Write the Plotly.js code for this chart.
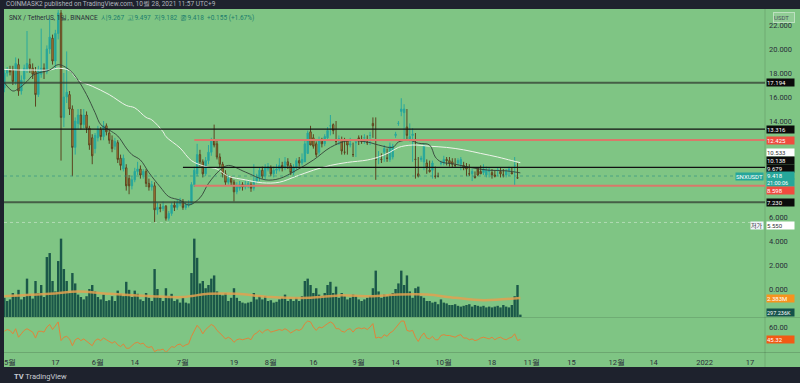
<!DOCTYPE html>
<html><head><meta charset="utf-8">
<script src="https://cdn.plot.ly/plotly-3.0.1.min.js"></script>
<style>html,body{margin:0;padding:0;background:#1e222d;overflow:hidden}#chart{width:800px;height:383px}</style>
</head><body><div id="chart"></div>
<script>
// ---- data (daily candles, 2021-04-29 .. 2021-10-28) ----
const startDate = '2021-04-29';
const opens = [16.75,18.0,18.2,18.3,17.3,18.7,16.5,17.5,18.3,18.7,18.4,18.1,16.2,17.9,18.4,18.1,20.0,20.9,19.0,21.3,23.0,14.3,16.0,16.2,15.0,11.8,13.8,14.5,13.7,14.5,13.4,12.6,11.7,12.6,13.3,12.7,13.6,13.0,12.4,11.9,12.2,10.9,10.0,10.1,9.2,8.6,9.1,9.8,10.0,9.5,9.8,8.8,8.5,8.6,6.6,6.8,6.7,6.9,5.9,6.3,7.0,6.8,7.1,7.3,6.8,7.0,7.1,8.7,9.6,11.2,10.6,9.6,10.7,11.4,12.4,12.1,11.0,10.4,9.6,8.9,9.2,8.9,8.1,8.4,8.7,8.5,8.6,8.7,8.4,9.0,9.3,9.9,9.4,10.0,10.1,9.6,9.9,10.0,10.3,10.1,10.6,10.3,9.7,10.1,10.7,10.5,10.6,11.3,13.1,12.6,12.1,11.4,12.4,12.1,12.6,13.6,13.7,12.3,12.5,12.4,11.4,12.4,12.0,11.2,12.2,12.6,12.3,12.6,12.2,12.8,13.8,10.8,11.0,10.8,11.4,10.9,10.8,11.0,12.8,13.8,14.8,14.7,13.5,12.5,12.8,10.8,9.6,10.8,10.6,10.5,9.9,9.9,9.4,9.4,10.5,10.5,10.8,10.7,10.6,10.3,10.5,10.4,10.3,10.2,9.6,9.6,9.4,10.1,9.8,9.7,9.5,9.8,9.7,9.5,9.9,9.8,9.5,9.5,9.9,9.7,10.3,9.267];
const highs = [18.3,18.5,18.6,18.6,19.3,19.2,17.8,18.7,21.5,19.2,18.8,18.5,18.6,21.7,18.8,20.3,22.6,21.2,21.6,24.5,23.6,18.0,19.8,16.5,15.3,14.3,15.0,15.0,15.0,14.8,13.6,12.9,13.0,13.6,13.5,14.0,13.8,13.3,12.8,12.6,12.4,11.2,11.2,10.4,9.5,9.4,10.1,10.6,10.3,10.0,10.0,9.2,9.0,8.9,7.2,7.1,7.3,7.0,6.5,7.2,7.3,7.5,7.6,7.5,7.3,7.4,8.9,10.2,12.1,11.6,10.8,11.0,12.0,12.6,13.7,12.4,11.3,10.6,9.9,9.5,9.4,9.1,8.9,9.0,8.9,9.0,9.1,8.9,10.4,9.6,10.1,10.2,10.4,10.5,10.3,10.2,10.4,10.9,10.6,11.0,10.9,10.5,10.4,10.9,11.0,11.3,12.4,13.2,13.6,12.9,12.3,12.7,12.6,12.9,13.5,14.5,13.8,14.0,12.8,12.7,12.6,12.3,12.6,12.2,12.4,12.8,12.8,12.9,12.8,13.1,14.3,14.3,11.5,11.3,12.0,11.7,12.2,12.1,13.1,14.0,15.9,15.4,15.0,13.8,13.4,13.0,11.0,11.1,12.1,10.8,10.7,10.7,10.2,9.7,10.7,11.1,11.0,11.0,10.9,10.9,10.9,11.0,10.6,10.5,10.4,10.0,9.8,9.7,10.3,10.4,10.2,10.1,10.0,9.9,10.1,10.1,10.0,10.0,10.2,10.1,11.0,10.5,9.497];
const lows = [16.4,17.7,17.8,17.0,17.0,16.1,16.2,17.2,18.0,18.0,17.5,15.2,16.0,17.6,17.5,17.9,19.6,18.7,18.3,20.8,10.7,13.5,15.5,14.5,9.4,11.2,13.3,13.3,13.4,13.0,11.6,10.4,11.3,12.3,12.4,12.4,12.8,12.1,11.4,11.6,10.5,9.9,9.8,8.2,7.9,8.3,8.9,9.5,9.2,9.2,8.5,8.2,8.2,5.55,6.2,6.4,6.5,5.7,5.7,6.1,6.5,6.6,6.9,6.6,6.6,6.8,7.0,8.5,9.4,10.2,9.3,9.4,10.4,11.1,11.8,10.8,10.1,9.3,8.6,8.7,8.6,7.3,7.9,8.2,8.2,8.3,8.4,8.1,8.2,8.8,9.0,9.2,9.1,9.8,9.4,9.3,9.6,9.8,9.8,9.9,10.0,9.5,9.5,9.9,10.2,10.3,11.1,12.3,12.0,11.7,11.0,11.2,11.8,11.9,12.4,12.8,12.9,12.0,12.0,11.2,11.2,11.2,11.8,11.0,11.0,12.0,12.1,12.1,12.0,12.0,12.6,9.1,10.4,10.5,10.6,10.6,10.6,10.8,12.6,13.6,14.4,12.5,12.4,12.3,10.6,9.2,9.3,10.6,9.9,9.6,9.7,9.2,9.2,9.3,10.3,10.3,10.3,10.2,10.1,10.1,10.3,9.9,9.9,9.4,9.4,9.0,9.2,9.4,9.6,9.5,9.3,9.3,9.2,9.3,9.4,9.3,9.3,9.3,9.4,9.6,8.65,9.182];
const closes = [18.0,18.2,18.1,17.3,18.8,16.5,17.4,18.4,18.8,18.4,17.9,16.2,18.3,18.4,18.1,20.0,21.0,19.0,21.3,23.0,14.3,16.0,16.4,15.0,11.8,14.0,14.5,13.7,14.5,13.4,12.0,11.1,12.8,13.3,12.7,13.6,13.1,12.4,11.7,12.3,10.8,10.3,10.9,8.6,8.6,9.1,9.8,10.0,9.5,9.8,8.8,8.5,8.7,6.6,6.8,6.7,6.9,5.9,6.3,7.0,6.8,7.2,7.3,6.8,7.0,7.1,8.7,9.9,11.2,10.6,9.6,10.7,11.4,12.4,12.0,11.0,10.4,9.6,8.9,9.2,8.9,8.1,8.6,8.7,8.5,8.7,8.8,8.4,9.0,9.3,9.9,9.4,10.1,10.2,9.6,9.9,10.0,10.3,10.1,10.6,10.3,9.7,10.1,10.7,10.5,10.8,12.1,13.0,12.0,11.9,11.2,12.4,12.1,12.7,13.2,13.6,13.2,12.3,12.5,11.5,11.4,12.0,12.1,11.2,12.2,12.5,12.3,12.6,12.2,12.8,13.6,10.8,11.0,10.8,11.7,10.9,11.9,11.9,12.9,13.8,15.0,15.0,12.8,12.7,12.9,10.8,9.4,10.9,11.9,10.1,9.8,10.5,9.4,9.4,10.5,10.8,10.7,10.5,10.4,10.3,10.7,10.8,10.1,10.0,9.6,9.8,9.3,9.5,9.6,10.0,9.9,9.9,9.5,9.4,9.9,9.6,9.5,9.8,10.0,9.6,10.3,9.263,9.418];
const volumeM = [2.4,2.0,2.2,3.0,2.6,3.4,2.2,2.5,4.8,2.8,2.3,4.5,3.0,4.0,2.5,7.5,8.0,4.5,3.2,7.0,9.8,6.0,4.5,3.0,5.5,4.2,2.8,2.5,2.2,2.6,3.5,4.0,3.2,2.5,2.2,2.8,2.0,2.1,2.6,2.0,3.3,2.9,2.6,4.4,3.4,2.5,3.3,2.9,2.2,2.0,3.0,2.4,2.0,6.0,3.5,2.4,2.0,3.6,2.6,2.9,2.0,2.2,1.8,2.4,1.8,1.7,5.5,9.8,7.4,4.2,4.5,3.6,4.0,4.8,5.2,3.2,2.8,2.7,3.0,2.0,2.4,3.6,2.4,2.0,1.8,1.7,1.8,1.9,3.0,2.2,2.6,2.2,2.6,2.0,2.1,1.8,1.9,2.2,2.4,2.8,2.0,2.3,2.0,2.4,2.0,2.6,4.5,4.8,4.0,3.0,3.6,2.8,2.6,3.0,4.0,4.4,3.0,3.8,2.4,3.0,2.6,2.2,2.4,2.8,2.6,2.2,2.0,2.2,2.4,2.6,3.6,5.8,3.2,2.4,2.8,2.6,2.8,3.0,3.5,4.2,5.8,4.0,5.2,3.2,2.4,3.6,3.8,2.6,2.4,2.0,2.0,1.8,1.9,1.6,2.2,1.8,1.7,1.5,1.5,1.6,1.4,1.3,1.4,1.5,1.6,1.3,1.5,1.4,1.3,1.4,1.2,1.3,1.2,1.3,1.4,1.2,1.5,1.3,1.2,1.5,2.6,4.0,0.297];
const rsiVals = [55,57,56,52,58,48,52,56,58,56,54,47,
  55,55,54,60,63,57,62,66,44,48,49,
  46,38,45,47,44,46,43,40,38,44,
  46,44,47,45,43,41,43,39,37,40,
  35,35,38,41,42,40,41,37,36,37,
  31,33,33,34,30,33,37,36,39,40,
  37,39,40,49,56,62,58,52,57,60,
  63,61,56,53,49,46,48,46,42,45,
  46,45,46,47,45,51,53,56,53,56,
  57,54,55,56,57,56,58,56,53,55,
  57,56,58,64,67,66,60,56,60,59,
  62,64,66,64,58,58,55,54,57,58,
  54,58,59,58,59,57,60,64,47,48,
  47,51,49,53,55,59,63,67,67,56,
  55,56,48,43,49,53,47,46,49,45,
  45,50,51,50,50,49,48,50,51,47,
  47,45,46,44,45,47,48,47,46,48,
  45,47,48,46,45,47,48,52,44.2,45.32];

const ma1Dates = ['2021-04-29','2021-05-02','2021-05-04','2021-05-07','2021-05-09','2021-05-11','2021-05-15','2021-05-18','2021-05-22','2021-05-25','2021-05-28','2021-05-31','2021-06-02','2021-06-05','2021-06-08','2021-06-11','2021-06-13','2021-06-16','2021-06-19','2021-06-23','2021-06-26','2021-06-30','2021-07-03','2021-07-07','2021-07-10','2021-07-14','2021-07-17','2021-07-23','2021-07-30','2021-08-04','2021-08-10','2021-08-16','2021-08-22','2021-08-28','2021-09-04','2021-09-08','2021-09-13','2021-09-15','2021-09-19','2021-09-22','2021-09-26','2021-09-28','2021-09-30','2021-10-05','2021-10-11','2021-10-17','2021-10-23','2021-10-28'];
const ma1Vals = [17.2,16.5,16.7,17.3,17.8,18.0,18.25,18.7,18.25,17.4,16.2,14.7,13.7,13.25,12.75,11.75,11.2,10.75,9.7,8.5,7.7,7.4,7.0,7.6,8.8,9.9,10.3,9.75,9.1,9.2,9.9,10.75,11.8,12.35,12.25,12.0,11.8,12.25,12.4,12.15,12.0,11.0,10.6,10.4,10.1,9.9,9.85,9.68];
const ma2Dates = ['2021-04-29','2021-05-04','2021-05-09','2021-05-15','2021-05-18','2021-05-22','2021-05-25','2021-05-30','2021-06-05','2021-06-11','2021-06-14','2021-06-18','2021-06-20','2021-06-24','2021-06-25','2021-06-30','2021-07-04','2021-07-09','2021-07-13','2021-07-17','2021-07-23','2021-07-29','2021-08-04','2021-08-10','2021-08-16','2021-08-22','2021-08-28','2021-09-04','2021-09-08','2021-09-12','2021-09-15','2021-09-20','2021-09-26','2021-10-02','2021-10-08','2021-10-14','2021-10-20','2021-10-25','2021-10-28'];
const ma2Vals = [18.3,18.25,18.25,18.25,18.4,18.2,17.4,16.9,16.2,15.3,15.1,14.3,14.1,13.1,12.7,11.75,10.7,10.2,10.0,9.4,9.1,8.85,8.9,9.4,9.9,10.3,10.55,10.75,11.0,11.4,11.8,12.0,11.9,11.8,11.6,11.3,11.0,10.7,10.53];
const volMaDates = ['2021-04-29','2021-05-15','2021-05-25','2021-06-05','2021-06-20','2021-07-01','2021-07-10','2021-07-20','2021-08-01','2021-08-15','2021-08-25','2021-09-05','2021-09-15','2021-09-25','2021-10-05','2021-10-15','2021-10-28'];
const volMaVals = [2.6,2.9,3.2,2.9,2.6,2.5,2.9,2.9,2.5,2.4,2.7,2.6,2.8,2.8,2.4,2.1,2.383];

const xTickVals = ['2021-05-01','2021-05-17','2021-06-01','2021-06-14','2021-07-01','2021-07-19','2021-08-01','2021-08-16','2021-09-01','2021-09-14','2021-10-01','2021-10-18','2021-11-01','2021-11-15','2021-12-01','2021-12-14','2022-01-01','2022-01-17'];
const xTickText = ['5월','17','6월','14','7월','19','8월','16','9월','14','10월','18','11월','15','12월','14','2022','17'];
// 8, 10 and 12 are hidden behind the price tags in the reference
const priceTicks = [0,2,4,6,14,16,18,20,22];
const levels = [
  {v:17.194, from:'2021-04-28', color:'rgba(50,60,50,0.75)', w:2},
  {v:13.316, from:'2021-05-01', color:'#111111', w:1.3},
  {v:12.425, from:'2021-07-05', color:'#d9786a', w:2},
  {v:10.138, from:'2021-07-01', color:'#111111', w:1.3},
  {v:8.598, from:'2021-07-05', color:'#d9786a', w:2},
  {v:7.230, from:'2021-04-28', color:'rgba(50,60,50,0.75)', w:2}
];

// consecutive daily dates for the candles
const dates = [];
{ const d0 = new Date(startDate + 'T00:00:00Z');
  for (let i = 0; i < closes.length; i++) { const d = new Date(d0.getTime() + i*86400000); dates.push(d.toISOString().slice(0,10)); } }

// ---- layout helpers (pixel -> paper) ----
const L=4, R=35, T=10, B=31, W=800, H=383;
const PW=W-L-R, PH=H-T-B;
const px = x => (x-L)/PW;
const py = y => (H-B-y)/PH;
const xEnd = '2022-01-22 07:00';
const FONT = 'Roboto, Arial, sans-serif';

const traces = [
  {type:'bar', x:dates, y:volumeM, xaxis:'x', yaxis:'y2', marker:{color:'#1b5849', line:{width:0}}, hoverinfo:'skip'},
  {type:'scatter', mode:'lines', x:volMaDates, y:volMaVals, xaxis:'x', yaxis:'y2', line:{color:'rgba(226,160,80,0.85)', width:2.5, shape:'spline'}, hoverinfo:'skip'},
  {type:'scatter', mode:'lines', x:ma2Dates, y:ma2Vals, line:{color:'#eef3ea', width:1, shape:'spline'}, hoverinfo:'skip'},
  {type:'scatter', mode:'lines', x:ma1Dates, y:ma1Vals, line:{color:'#34433a', width:0.9, shape:'spline'}, hoverinfo:'skip'},
  {type:'candlestick', x:dates, open:opens, high:highs, low:lows, close:closes,
   increasing:{line:{color:'#2aa89c', width:1}, fillcolor:'#1fa095'},
   decreasing:{line:{color:'#5c4520', width:1}, fillcolor:'#cc9140'}, whiskerwidth:0, hoverinfo:'skip'},
  {type:'scatter', mode:'lines', x:dates, y:rsiVals, xaxis:'x', yaxis:'y3', line:{color:'#e0843a', width:1}, hoverinfo:'skip'}
];

const shapes = [
  {type:'rect', xref:'paper', yref:'paper', x0:0, x1:px(800), y0:py(367), y1:py(9), fillcolor:'#7fc584', line:{width:0}, layer:'below'},
  {type:'line', xref:'paper', yref:'paper', x0:1, x1:1, y0:py(367), y1:py(9), line:{color:'rgba(0,0,0,0.13)', width:1}},
  {type:'line', xref:'paper', yref:'paper', x0:0, x1:px(800), y0:py(317.5), y1:py(317.5), line:{color:'rgba(0,0,0,0.12)', width:1}},
  {type:'line', xref:'paper', yref:'paper', x0:0, x1:px(800), y0:py(352.5), y1:py(352.5), line:{color:'rgba(0,0,0,0.15)', width:1}},
  {type:'line', xref:'paper', yref:'y', x0:0, x1:1, y0:9.418, y1:9.418, line:{color:'rgba(40,140,130,0.6)', width:1, dash:'dot'}},
  {type:'line', xref:'paper', yref:'y', x0:0, x1:1, y0:5.55, y1:5.55, line:{color:'rgba(230,240,230,0.5)', width:1, dash:'dot'}}
];
levels.forEach(l => shapes.push({type:'line', xref:'x', yref:'y', x0:l.from, x1:xEnd, y0:l.v, y1:l.v, line:{color:l.color, width:l.w}}));

function tag(text, ypx, bg, fg, opts) {
  return Object.assign({xref:'paper', yref:'paper', x:px(766), y:py(ypx), xanchor:'left', yanchor:'middle', text:text, showarrow:false,
    font:{family:FONT, size:6, color:fg}, bgcolor:bg, borderpad:0, width:27, height:7, align:'left', valign:'middle'}, opts||{});
}
const annotations = [
  {xref:'paper', yref:'paper', x:px(4), y:py(4.5), xanchor:'left', yanchor:'middle', showarrow:false,
   text:'COINMASK2 published on TradingView.com, 10월 28, 2021 11:57 UTC+9', font:{family:FONT, size:6.5, color:'#b2b5be'}},
  {xref:'paper', yref:'paper', x:px(7), y:py(18), xanchor:'left', yanchor:'middle', showarrow:false,
   text:'SNX / TetherUS, 1일, BINANCE  <span style="color:#1c7d6c">시9.267  고9.497  저9.182  종9.418  +0.155 (+1.67%)</span>', font:{family:FONT, size:6.5, color:'#2a2e39'}},
  {xref:'paper', yref:'paper', x:px(12), y:py(376), xanchor:'left', yanchor:'middle', showarrow:false,
   text:'<b>TV</b> TradingView', font:{family:FONT, size:7.5, color:'#c9ccd4'}},
  tag('USDT', 17, 'rgba(255,255,255,0.15)', '#4a4f5a', {width:20, height:9, x:px(773), bordercolor:'rgba(255,255,255,0.45)', borderwidth:1}),
  tag('17.194', 83, '#0b0b0b', '#ffffff'),
  tag('13.316', 129, '#0b0b0b', '#ffffff'),
  tag('12.425', 140, '#f04b3f', '#ffffff'),
  tag('10.533', 152.5, '#ffffff', '#333333'),
  tag('10.138', 160.5, '#0b0b0b', '#ffffff'),
  tag('9.679', 168, '#0b0b0b', '#ffffff'),
  tag('9.418', 175.5, '#26a69a', '#ffffff'),
  tag('21:00:06', 182.5, '#26a69a', '#ffffff', {font:{family:FONT, size:5.5, color:'#ffffff'}}),
  tag('8.598', 190, '#f04b3f', '#ffffff'),
  tag('7.230', 202, '#0b0b0b', '#ffffff'),
  tag('5.550', 225, '#ffffff', '#333333'),
  tag('2.383M', 298, '#f7931e', '#ffffff'),
  tag('297.236K', 312, '#14514a', '#ffffff', {font:{family:FONT, size:5.5, color:'#ffffff'}}),
  tag('45.32', 339.5, '#f25a14', '#ffffff'),
  {xref:'paper', yref:'paper', x:px(764), y:py(176), xanchor:'right', yanchor:'middle', showarrow:false, text:'SNXUSDT',
   font:{family:FONT, size:6, color:'#ffffff'}, bgcolor:'#26a69a', borderpad:0, height:7},
  {xref:'paper', yref:'paper', x:px(764), y:py(225), xanchor:'right', yanchor:'middle', showarrow:false, text:'저가',
   font:{family:'Noto Sans CJK KR, sans-serif', size:6, color:'#333333'}, bgcolor:'#f0f3fa', borderpad:0, height:7}
];

const axFont = {family:FONT, size:7.5, color:'#2a2e39'};
const layout = {
  width:W, height:H, margin:{l:L, r:R, t:T, b:B, pad:0},
  paper_bgcolor:'#1e222d', plot_bgcolor:'#7fc584', showlegend:false, dragmode:false, bargap:0.15,
  xaxis:{type:'date', range:['2021-04-28 21:13', xEnd], tickmode:'array', tickvals:xTickVals, ticktext:xTickText,
    showgrid:false, zeroline:false, showline:false, ticks:'', tickfont:axFont, anchor:'y3', rangeslider:{visible:false}, ticklabelstandoff:4},
  yaxis:{domain:[py(317), 1], range:[-2.33, 23.25], side:'right', tickmode:'array', tickvals:priceTicks, tickformat:'.3f',
    showgrid:false, zeroline:false, ticks:'', tickfont:axFont, anchor:'x', ticklabelstandoff:3},
  yaxis2:{overlaying:'y', range:[0, 38.4], visible:false, showgrid:false, zeroline:false},
  yaxis3:{domain:[0, py(318)], range:[30.6, 70.6], side:'right', tickmode:'array', tickvals:[60], tickformat:'.2f',
    showgrid:false, zeroline:false, ticks:'', tickfont:axFont, anchor:'x', ticklabelstandoff:3},
  shapes:shapes, annotations:annotations
};
Plotly.newPlot('chart', traces, layout, {staticPlot:true, displayModeBar:false});
</script></body></html>
